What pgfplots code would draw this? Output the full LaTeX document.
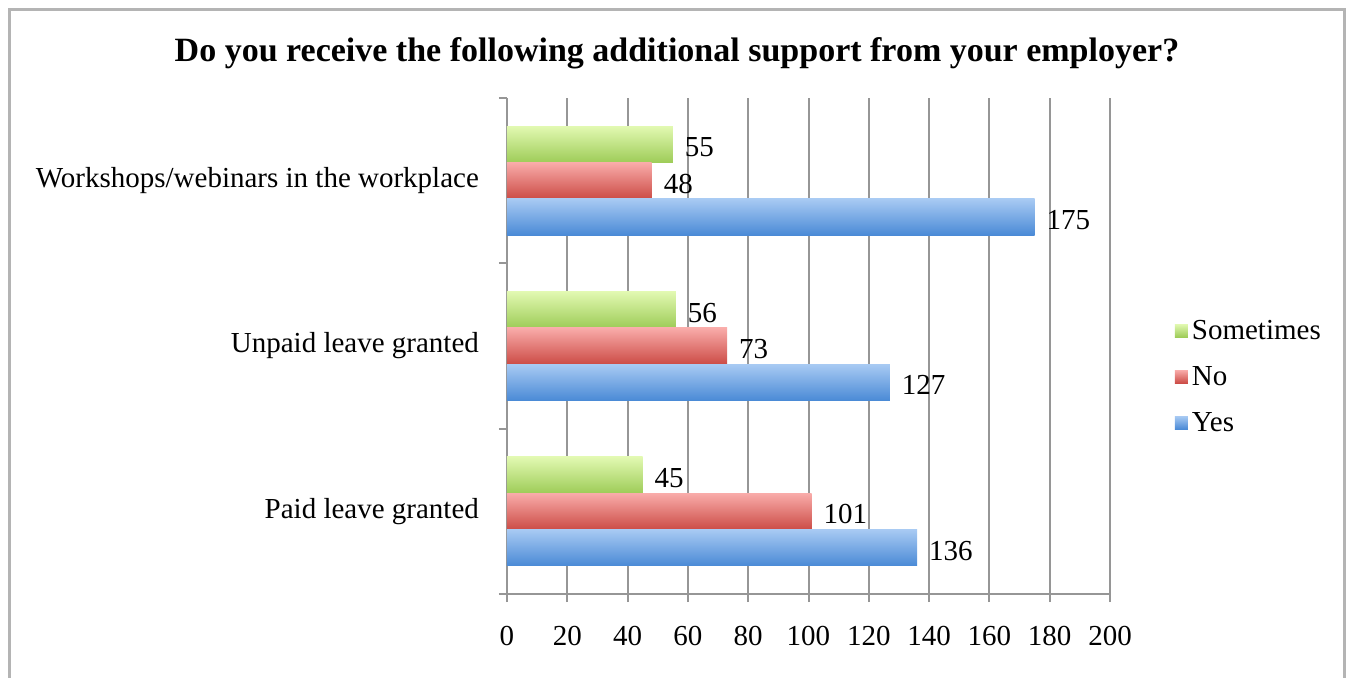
\documentclass[border=0pt]{standalone}
\usepackage{fontspec}
\setmainfont{Liberation Serif}
\usepackage{pgfplots}
\pgfplotsset{compat=1.18}
\definecolor{bluetop}{RGB}{168,202,243}
\definecolor{bluebot}{RGB}{74,138,214}
\definecolor{redtop}{RGB}{249,172,170}
\definecolor{redbot}{RGB}{204,76,70}
\definecolor{greentop}{RGB}{226,249,178}
\definecolor{greenbot}{RGB}{158,204,88}
\definecolor{gridgray}{RGB}{150,150,150}
\definecolor{framegray}{RGB}{180,180,180}
\pgfplotsset{
  gbar/.style={draw=none, top color=greentop, bottom color=greenbot, bar shift=0.22,
    legend image code/.code={\shade[top color=greentop, bottom color=greenbot] (0pt,-3pt) rectangle (6.5pt,3.5pt);}},
  rbar/.style={draw=none, top color=redtop, bottom color=redbot, bar shift=0,
    legend image code/.code={\shade[top color=redtop, bottom color=redbot] (0pt,-3pt) rectangle (6.5pt,3.5pt);}},
  bbar/.style={draw=none, top color=bluetop, bottom color=bluebot, bar shift=-0.22,
    legend image code/.code={\shade[top color=bluetop, bottom color=bluebot] (0pt,-3pt) rectangle (6.5pt,3.5pt);}},
}
\begin{document}
\begin{tikzpicture}
\clip (0,0) rectangle (675pt,338.5pt);
\draw[line width=1.5pt, framegray] (4.5pt,-10pt) rectangle (672pt,334pt);
\node[font=\bfseries\fontsize{17}{20}\selectfont] at (338.5pt,312pt) {Do you receive the following additional support from your employer?};
\begin{axis}[
  at={(253.5pt,41.5pt)}, anchor=south west,
  scale only axis, width=301.5pt, height=248pt,
  xmin=0, xmax=200, ymin=-0.5, ymax=2.5,
  xtick={0,20,...,200},
  ytick={-0.5,0.5,1.5,2.5}, yticklabels={},
  extra y ticks={0,1,2},
  extra y tick labels={Paid leave granted, Unpaid leave granted, Workshops/webinars in the workplace},
  extra y tick style={major tick length=0pt, grid=none, yticklabel style={xshift=-10.5pt}},
  axis x line*=bottom, axis y line*=left,
  tick align=outside,
  xmajorgrids, grid style={gridgray, line width=1pt},
  axis line style={gridgray, line width=1pt, -},
  tick style={gridgray, line width=1pt},
  major tick length=4pt,
  tick label style={font=\fontsize{14.5}{17}\selectfont, black},
  /pgf/number format/assume math mode=true,
  xticklabel style={yshift=-8.5pt},
  xbar, bar width=0.22,
  nodes near coords,
  every node near coord/.append style={anchor=west, xshift=2.5pt, yshift=-1.5pt, font=\fontsize{14.5}{17}\selectfont, black},
  legend style={at={(1.097,0.4375)}, anchor=west, draw=none, fill=none, font=\fontsize{14.5}{17}\selectfont, row sep=8pt},
  legend cell align=left,
]
\addplot[gbar] coordinates {(55,2)};
\addplot[rbar] coordinates {(48,2)};
\addplot[bbar] coordinates {(175,2)};
\legend{Sometimes, No, Yes}
\addplot[gbar, forget plot] coordinates {(56,1)};
\addplot[rbar, forget plot] coordinates {(73,1)};
\addplot[bbar, forget plot] coordinates {(127,1)};
\addplot[gbar, forget plot] coordinates {(45,0)};
\addplot[rbar, forget plot] coordinates {(101,0)};
\addplot[bbar, forget plot] coordinates {(136,0)};
\end{axis}
\end{tikzpicture}
\end{document}
